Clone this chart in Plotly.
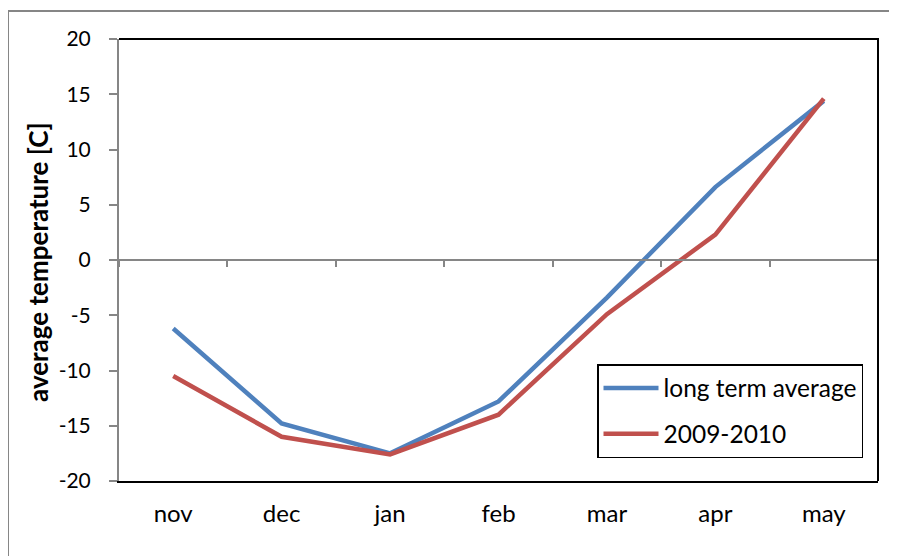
import plotly.graph_objects as go

months = ["nov", "dec", "jan", "feb", "mar", "apr", "may"]
long_term_average = [-6.2, -14.8, -17.5, -12.8, -3.4, 6.6, 14.4]
season_2009_2010 = [-10.5, -16.0, -17.6, -14.0, -4.9, 2.3, 14.6]
y_ticks = [-20, -15, -10, -5, 0, 5, 10, 15, 20]
y_tick_text = [str(v) for v in y_ticks]

FONT = "Lato, Carlito, Calibri, sans-serif"
BLUE = "#4F81BD"
RED = "#C0504D"
GRAY = "#868686"

OFF = 7  # page offset observed in the screenshot
W, H = 897, 556
L, R, T, B = 118 - OFF, W - (877 - OFF), 38 - OFF, H - (480 - OFF)
pw, ph = W - L - R, H - T - B


def px_x(x):
    return (x - OFF - L) / pw


def px_y(y):
    return (H - B - (y - OFF)) / ph


fig = go.Figure()
fig.add_trace(go.Scatter(x=months, y=long_term_average, mode="lines",
                         name="long term average", legendgroup="a",
                         line=dict(color=BLUE, width=4.5)))
fig.add_trace(go.Scatter(x=months, y=season_2009_2010, mode="lines",
                         name="2009-2010", legendgroup="b",
                         line=dict(color=RED, width=4.5)))
fig.add_trace(go.Scatter(x=[0], y=[0], xaxis="x2", mode="markers",
                         marker=dict(opacity=0), showlegend=False,
                         hoverinfo="skip"))

border_path = "M {x0},{y0} L {x0},{y1} L {x2},{y1}".format(
    x0=px_x(7), y0=px_y(H + 40), y1=px_y(10), x2=px_x(W + 40))

fig.update_layout(
    width=W, height=H,
    margin=dict(l=L, r=R, t=T, b=B),
    paper_bgcolor="white", plot_bgcolor="white",
    font=dict(family=FONT, size=21, color="black"),
    showlegend=True,
    legend=dict(x=px_x(596), y=px_y(363), xanchor="left", yanchor="top",
                bgcolor="white", bordercolor="black", borderwidth=1.5,
                font=dict(size=24.5, family=FONT), tracegroupgap=11,
                traceorder="grouped", itemwidth=55),
    xaxis=dict(type="category", range=[-0.5, 6.5], showgrid=False,
               zeroline=False, showline=True, linecolor="black", linewidth=2,
               ticks="outside", ticklen=10, tickcolor="rgba(0,0,0,0)",
               tickfont=dict(size=24)),
    xaxis2=dict(overlaying="x", anchor="free", position=0.5,
                range=[-0.5, 6.5], showgrid=False, zeroline=False,
                showline=True, linecolor=GRAY, linewidth=2,
                tickmode="array",
                tickvals=[-0.5, 0.5, 1.5, 2.5, 3.5, 4.5, 5.5, 6.5],
                ticks="outside", ticklen=6, tickwidth=1.5, tickcolor=GRAY,
                showticklabels=False, side="bottom"),
    yaxis=dict(range=[-20, 20], tickmode="array", tickvals=y_ticks,
               ticktext=y_tick_text,
               showgrid=False, zeroline=False, showline=True,
               linecolor=GRAY, linewidth=2, ticks="outside", ticklen=8,
               tickwidth=1.5, tickcolor=GRAY, ticklabelstandoff=14,
               tickfont=dict(size=21)),
    shapes=[
        dict(type="path", xref="paper", yref="paper",
             path="M 0,1 L 1,1 L 1,0", line=dict(color="black", width=2),
             layer="above"),
        dict(type="path", xref="paper", yref="paper", path=border_path,
             line=dict(color=GRAY, width=2), layer="below"),
    ],
    annotations=[
        dict(text="<b>average temperature [C]</b>", xref="paper", yref="paper",
             x=px_x(37), y=px_y(261), textangle=-90, showarrow=False,
             font=dict(size=26, family=FONT), xanchor="center",
             yanchor="middle"),
    ],
)

fig.write_html("out.html")
